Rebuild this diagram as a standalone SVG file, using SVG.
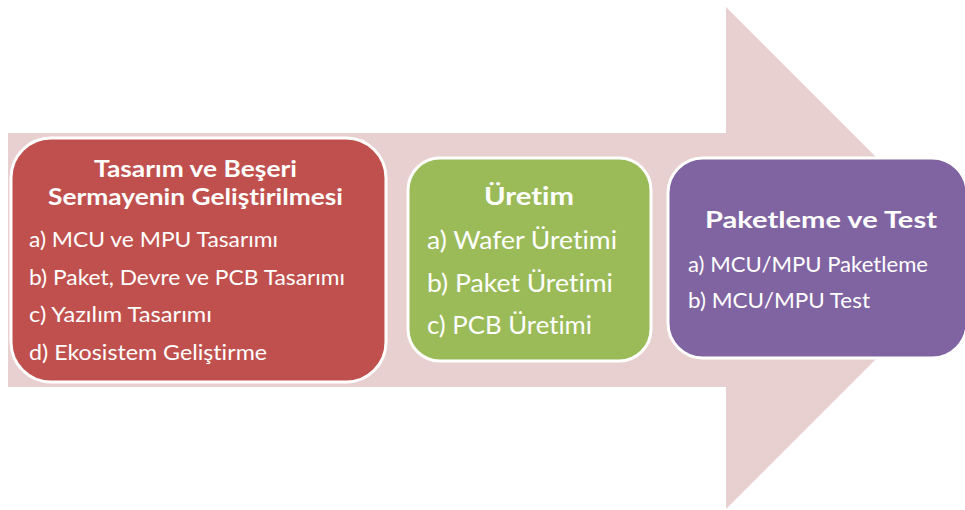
<svg xmlns="http://www.w3.org/2000/svg" width="965" height="510" viewBox="0 0 965 510">
  <style>
    .box { stroke: #FFFFFF; stroke-width: 3; }
    .t { font-family: Lato, "Open Sans", "Liberation Sans", sans-serif; fill: #FFFFFF; font-variant-ligatures: none; font-feature-settings: "liga" 0, "clig" 0; }
    .h { font-weight: bold; text-anchor: middle; }
    .b { font-weight: normal; }
  </style>
  <rect width="965" height="510" fill="#FFFFFF"/>
  <g id="connectors">
    <polygon id="arrow" points="8,133 726,133 726,7 977,258 726,509 726,387 8,387" fill="#E8D0D0"/>
  </g>
  <g id="node-tasarim">
    <rect class="box" x="11" y="138" width="375" height="244" rx="40" ry="40" fill="#C0504D"/>
    <text class="t h" x="195.5" y="176.5" font-size="23" textLength="203" lengthAdjust="spacingAndGlyphs">Tasarım ve Beşeri</text>
    <text class="t h" x="195.5" y="204.5" font-size="23" textLength="295" lengthAdjust="spacingAndGlyphs">Sermayenin Geliştirilmesi</text>
    <text class="t b" x="29" y="247" font-size="21" textLength="249" lengthAdjust="spacingAndGlyphs">a) MCU ve MPU Tasarımı</text>
    <text class="t b" x="29" y="284.5" font-size="21" textLength="316" lengthAdjust="spacingAndGlyphs">b) Paket, Devre ve PCB Tasarımı</text>
    <text class="t b" x="29" y="322" font-size="21" textLength="183" lengthAdjust="spacingAndGlyphs">c) Yazılım Tasarımı</text>
    <text class="t b" x="29" y="359.5" font-size="21" textLength="238" lengthAdjust="spacingAndGlyphs">d) Ekosistem Geliştirme</text>
  </g>
  <g id="node-uretim">
    <rect class="box" x="408" y="158" width="243" height="203" rx="32" ry="32" fill="#9BBB59"/>
    <text class="t h" x="529" y="204.5" font-size="25" textLength="90" lengthAdjust="spacingAndGlyphs">Üretim</text>
    <text class="t b" x="427" y="249" font-size="25" textLength="190" lengthAdjust="spacingAndGlyphs">a) Wafer Üretimi</text>
    <text class="t b" x="427" y="291.5" font-size="25" textLength="186" lengthAdjust="spacingAndGlyphs">b) Paket Üretimi</text>
    <text class="t b" x="427" y="334" font-size="25" textLength="165" lengthAdjust="spacingAndGlyphs">c) PCB Üretimi</text>
  </g>
  <g id="node-paketleme">
    <rect class="box" x="668" y="158" width="299" height="200" rx="35" ry="35" fill="#8064A2"/>
    <text class="t h" x="821" y="227.5" font-size="23.5" textLength="232" lengthAdjust="spacingAndGlyphs">Paketleme ve Test</text>
    <text class="t b" x="688" y="272" font-size="20.5" textLength="240" lengthAdjust="spacingAndGlyphs">a) MCU/MPU Paketleme</text>
    <text class="t b" x="688" y="307.5" font-size="20.5" textLength="182" lengthAdjust="spacingAndGlyphs">b) MCU/MPU Test</text>
  </g>
</svg>
